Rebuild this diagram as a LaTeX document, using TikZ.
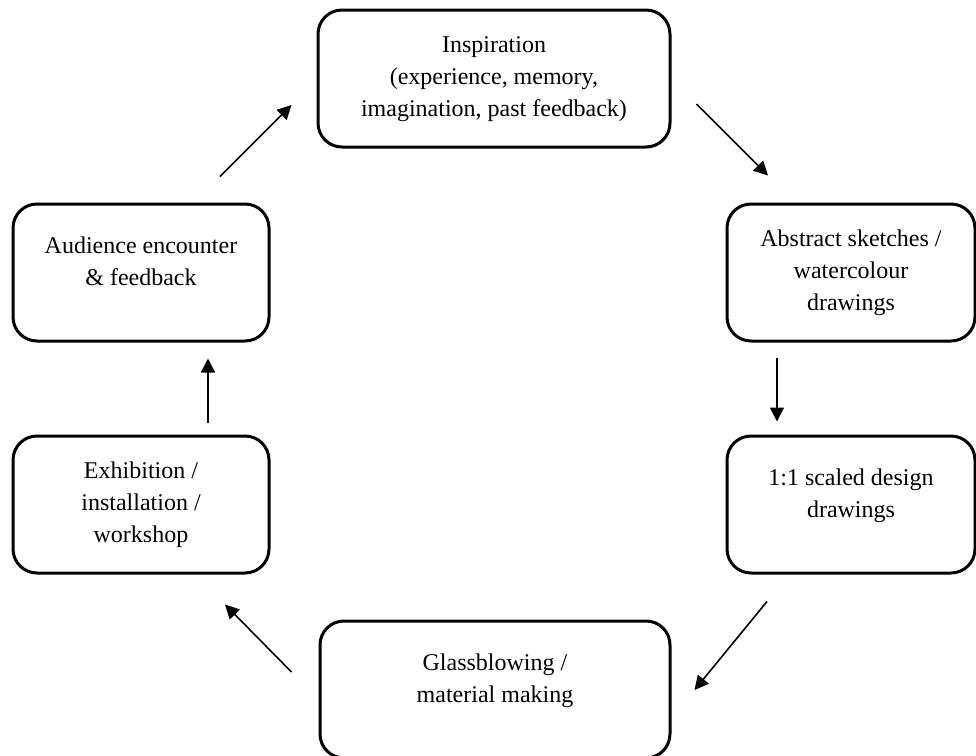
\documentclass[tikz,border=0pt]{standalone}
\usepackage{fontspec}
\setmainfont{Liberation Serif}
\usetikzlibrary{arrows.meta, positioning}
\newcommand{\stagetext}[3]{\parbox[c][68.5pt][t]{#1}{\centering\rule{0pt}{#2}#3}}

\begin{document}
\begin{tikzpicture}[x=0.5pt, y=-0.5pt,
        font=\fontsize{12pt}{16pt}\selectfont,
        stage/.style={draw, line width=1.5pt, rounded corners=12pt, inner sep=0pt},
        flow/.style={-{Triangle[length=7pt, width=7pt]}, line width=0.8pt}]
    \useasboundingbox (0,0) rectangle (976,756);
    \node[stage] (insp) at (494,78.5) {\stagetext{176pt}{21pt}{Inspiration\\(experience, memory,\\imagination, past feedback)}};
    \node[stage] (sketch) at (851,272.5) {\stagetext{124pt}{21pt}{Abstract sketches /\\watercolour\\drawings}};
    \node[stage] (scaled) at (851,504.5) {\stagetext{124pt}{24.5pt}{1:1 scaled design\\drawings}};
    \node[stage] (glass) at (495,689.5) {\stagetext{175pt}{24.5pt}{Glassblowing /\\material making}};
    \node[stage] (exhib) at (141,504.5) {\stagetext{128pt}{21pt}{Exhibition /\\installation /\\workshop}};
    \node[stage] (aud) at (141,272.5) {\stagetext{128pt}{24.5pt}{Audience encounter\\\& feedback}};

    \draw[flow] ([shift={(25,25.5)}]insp.east) -- ([shift={(-83,-27)}]sketch.north);
    \draw[flow] ([shift={(-74,15)}]sketch.south) -- ([shift={(-74,-13)}]scaled.north);
    \draw[flow] ([shift={(-84,27)}]scaled.south) -- ([shift={(23,0.5)}]glass.east);
    \draw[flow] ([shift={(-27,-17.5)}]glass.west) -- ([shift={(84,30)}]exhib.south);
    \draw[flow] ([shift={(67,-12)}]exhib.north) -- ([shift={(67,16)}]aud.south);
    \draw[flow] ([shift={(79,-26)}]aud.north) -- ([shift={(-25,26.5)}]insp.west);
\end{tikzpicture}
\end{document}
